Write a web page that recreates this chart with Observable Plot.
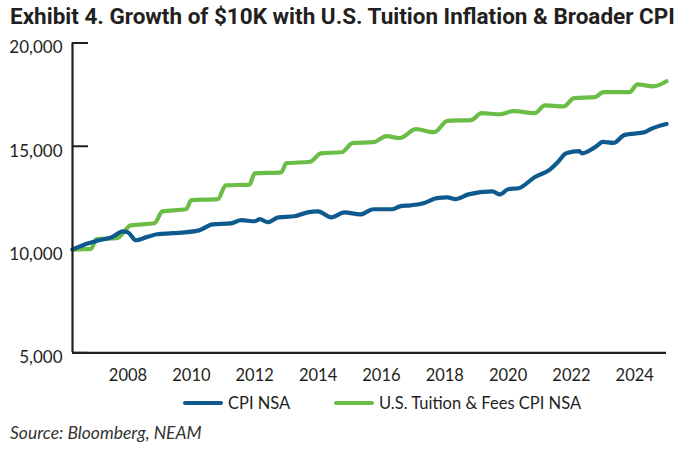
<!DOCTYPE html>
<html><head><meta charset="utf-8">
<script src="https://cdn.jsdelivr.net/npm/d3@7"></script>
<script src="https://cdn.jsdelivr.net/npm/@observablehq/plot@0.6"></script>
<style>
body{margin:0;width:683px;height:455px;background:#fff;position:relative;font-family:Lato,"Open Sans",sans-serif;color:#231f20;overflow:hidden}
#chart{position:absolute;left:0;top:0}
#title{position:absolute;left:10px;top:4px;font-family:Roboto,"Open Sans",sans-serif;font-weight:700;font-size:19px;line-height:24px;white-space:nowrap;color:#231f20}
.item{position:absolute;top:393px;height:20px;display:flex;align-items:center;font-size:16.5px;white-space:nowrap}
.sw{display:inline-block;width:40px;height:4px;border-radius:2px;margin-right:5px}
#source{position:absolute;left:10px;top:423px;font-style:italic;font-size:17.5px;line-height:20px;color:#333}
</style></head><body>
<div id="chart"></div>
<div id="title">Exhibit 4. Growth of $10K with U.S. Tuition Inflation &amp; Broader CPI</div>
<div id="legend"></div>
<div id="source">Source: Bloomberg, NEAM</div>
<script>
const seriesNames = ["CPI NSA", "U.S. Tuition & Fees CPI NSA"];
const seriesColors = ["#0e5a8f", "#6abd45"];

const cpiDates = ["2006-04","2006-10","2007-02","2007-07","2007-11","2008-01","2008-04","2008-08","2008-12","2009-06","2010-04","2010-09","2011-04","2011-08","2012-01","2012-03","2012-06","2012-10","2013-04","2013-09","2014-01","2014-06","2014-11","2015-05","2015-10","2016-05","2016-08","2016-12","2017-05","2017-10","2018-02","2018-05","2018-10","2019-07","2019-10","2020-01","2020-05","2020-11","2021-05","2021-08","2021-11","2022-04","2022-05","2022-10","2023-01","2023-05","2023-09","2024-05","2024-07","2025-01"];
const cpiValues = [10000,10300,10450,10600,10880,10830,10450,10600,10740,10790,10930,11220,11270,11420,11370,11470,11320,11560,11610,11800,11850,11560,11800,11700,11950,11950,12090,12140,12240,12490,12530,12440,12670,12820,12670,12920,12970,13500,13880,14250,14660,14760,14660,14960,15210,15160,15540,15690,15830,16080];

const tuitionDates = ["2006-04","2006-11","2007-01","2007-09","2007-11","2008-02","2008-11","2009-02","2009-11","2010-01","2010-11","2011-02","2011-11","2012-01","2012-11","2013-01","2013-10","2014-02","2014-10","2015-02","2015-10","2016-03","2016-08","2017-02","2017-09","2018-02","2018-11","2019-03","2019-10","2020-03","2020-11","2021-03","2021-10","2022-02","2022-10","2023-01","2023-11","2024-02","2024-08","2025-01"];
const tuitionValues = [10000,10030,10500,10550,10780,11170,11270,11850,11950,12390,12440,13110,13140,13690,13740,14180,14250,14660,14710,15150,15200,15490,15400,15830,15680,16230,16270,16600,16550,16700,16600,16980,16930,17330,17380,17620,17620,18000,17900,18150];

const yTicks = [5000, 10000, 15000, 20000];
const xTickYears = [2008, 2010, 2012, 2014, 2016, 2018, 2020, 2022, 2024];

const parse = d3.utcParse("%Y-%m");
const cpi = cpiDates.map((d, i) => ({date: parse(d), value: cpiValues[i]}));
const tuition = tuitionDates.map((d, i) => ({date: parse(d), value: tuitionValues[i]}));
const xDomain = [parse(cpiDates[0]), parse(cpiDates[cpiDates.length - 1])];
const xTicks = xTickYears.map(y => new Date(Date.UTC(y, 0, 1)));
const axisColor = "#231f20";

const plot = Plot.plot({
  width: 683,
  height: 390,
  marginTop: 42.5,
  marginBottom: 37.7,
  marginLeft: 72,
  marginRight: 17,
  style: {background: "transparent", fontFamily: "Lato, 'Open Sans', sans-serif", fontSize: "16.5px", color: axisColor},
  x: {type: "utc", domain: xDomain},
  y: {domain: [yTicks[0], yTicks[yTicks.length - 1]]},
  marks: [
    Plot.axisY({ticks: yTicks, tickSize: -16, tickFormat: () => "", stroke: axisColor, strokeWidth: 2, label: null}),
    Plot.axisY({ticks: yTicks, tickSize: 0, tickPadding: 10, tickFormat: d3.format(","), dy: 5, fill: axisColor, fontSize: 17, label: null}),
    Plot.axisX({ticks: xTicks, tickSize: 0, tickPadding: 16, tickFormat: d3.utcFormat("%Y"), fill: axisColor, label: null}),
    Plot.lineY(tuition, {x: "date", y: "value", stroke: seriesColors[1], strokeWidth: 4.2, curve: "monotone-x"}),
    Plot.lineY(cpi, {x: "date", y: "value", stroke: seriesColors[0], strokeWidth: 4.2, curve: "monotone-x"}),
    Plot.ruleX([xDomain[0]], {stroke: axisColor, strokeWidth: 2.2}),
    Plot.ruleY([yTicks[0]], {stroke: axisColor, strokeWidth: 2.2})
  ]
});
document.getElementById("chart").appendChild(plot);

const legend = document.getElementById("legend");
const legendLeft = [183, 334];
seriesNames.forEach((name, i) => {
  const item = document.createElement("div");
  item.className = "item";
  item.style.left = legendLeft[i] + "px";
  const sw = document.createElement("span");
  sw.className = "sw";
  sw.style.background = seriesColors[i];
  item.appendChild(sw);
  item.appendChild(document.createTextNode(name));
  legend.appendChild(item);
});

// fit title to the reference width by font size
const title = document.getElementById("title");
const targetW = 665;
const w = title.getBoundingClientRect().width;
title.style.fontSize = (19 * targetW / w) + "px";
</script>
</body></html>
